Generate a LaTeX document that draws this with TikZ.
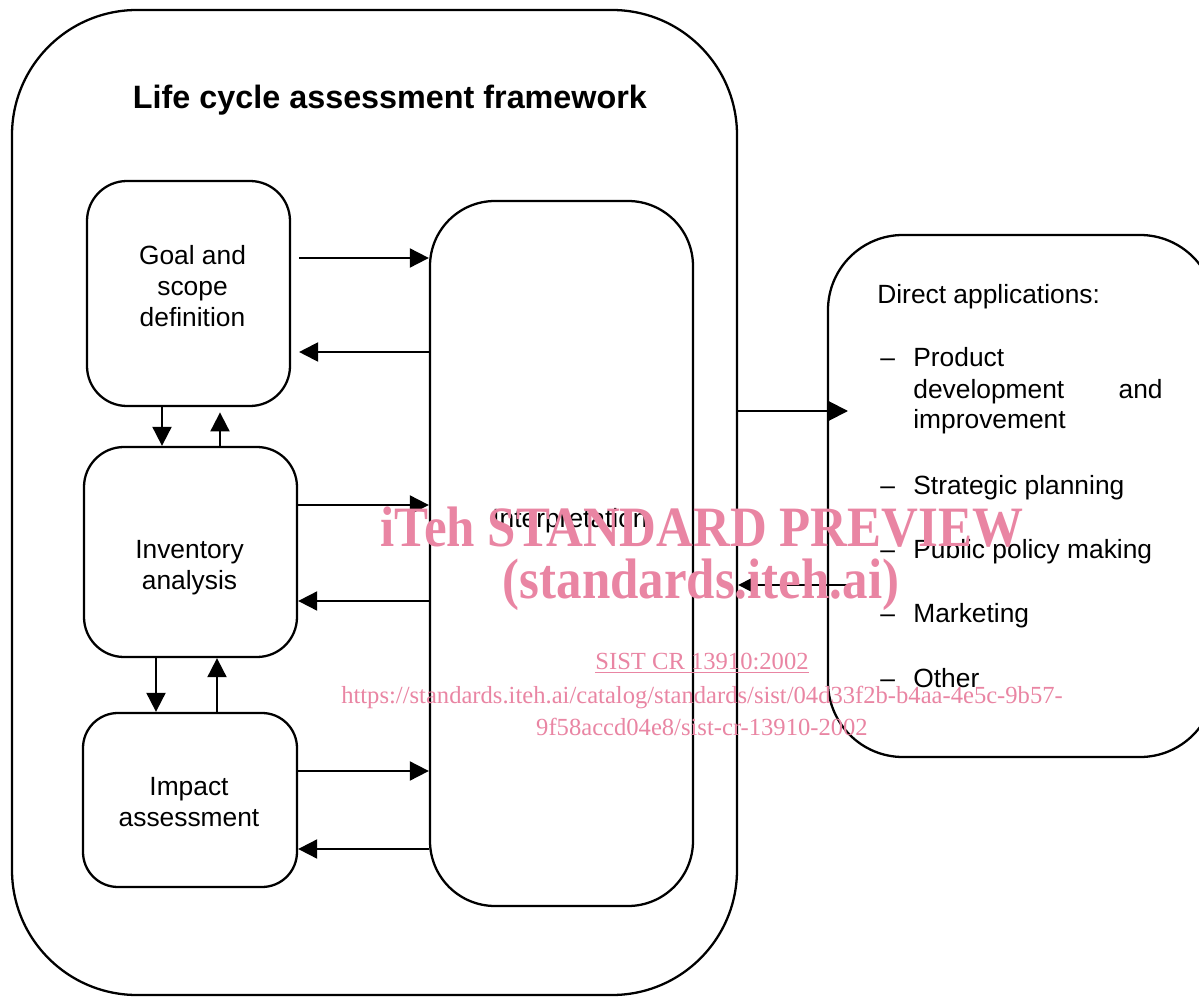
\documentclass[tikz,border=0pt]{standalone}
\usepackage{fontspec}
\setmainfont{Liberation Sans}
\newfontfamily\wmfont{Liberation Serif}
\usetikzlibrary{arrows.meta,positioning,calc}
\definecolor{wmpink}{RGB}{233,133,163}

\begin{document}
\begin{tikzpicture}[
    frame/.style={draw, line width=1.3pt, rounded corners=2.5cm},
    stage/.style={draw, line width=1.3pt, rounded corners=0.8cm},
    stagetext/.style={align=center, font=\fontsize{15}{17.6}\selectfont},
    arrow/.style={-{Triangle[length=0.38cm, width=0.38cm]}, line width=1.1pt},
    item/.style={anchor=base west, inner sep=0pt, font=\fontsize{15}{18}\selectfont},
    wm/.style={text=wmpink, align=center, inner sep=0pt}
]
\useasboundingbox (0,0) rectangle (23.98,19.96);

% framework
\node[frame, minimum width=14.5cm, minimum height=19.7cm] (lca) at (7.49,9.91) {};
\node[font=\fontsize{18.4}{22}\selectfont\bfseries] (title) at (7.8,17.96) {Life cycle assessment framework};

\node[stage, minimum width=4.06cm, minimum height=4.5cm] (goal) at (3.77,14.09) {};
\node[stagetext] (goaltxt) at (3.85,14.23) {Goal and\\scope\\definition};
\node[stage, minimum width=4.26cm, minimum height=4.2cm] (inv) at (3.81,8.92) {};
\node[stagetext] (invtxt) at (3.79,8.6) {Inventory\\analysis};
\node[stage, minimum width=4.28cm, minimum height=3.48cm, rounded corners=0.7cm] (impact) at (3.8,3.96) {};
\node[stagetext] (impacttxt) at (3.78,3.92) {Impact\\assessment};

\node[stage, minimum width=5.26cm, minimum height=14.1cm, rounded corners=1.3cm] (interp) at (11.23,8.89) {};
\node[stagetext] (interptxt) at (11.4,9.54) {Interpretation};

% phases <-> interpretation
\draw[arrow, shorten <=4.5pt] (goal.east |- 0,14.8) -- (interp.west |- 0,14.8);
\draw[arrow, shorten >=4.5pt] (interp.west |- 0,12.92) -- (goal.east |- 0,12.92);
\draw[arrow] (inv.east |- 0,9.86) -- (interp.west |- 0,9.86);
\draw[arrow] (interp.west |- 0,7.94) -- (inv.east |- 0,7.94);
\draw[arrow] (impact.east |- 0,4.54) -- (interp.west |- 0,4.54);
\draw[arrow] (interp.west |- 0,2.98) -- (impact.east |- 0,2.98);

% between phases
\draw[arrow] (goal.south -| 3.24,0) -- (inv.north -| 3.24,0);
\draw[arrow, shorten >=3pt] (inv.north -| 4.4,0) -- (goal.south -| 4.4,0);
\draw[arrow] (inv.south -| 3.12,0) -- (impact.north -| 3.12,0);
\draw[arrow] (impact.north -| 4.34,0) -- (inv.south -| 4.34,0);

% direct applications
\node[frame, minimum width=7.74cm, minimum height=10.44cm, rounded corners=1.5cm] (direct) at (20.43,10.04) {};
\node[item] (apphead) at (17.54,13.88) {Direct applications:};
\node[item] (d1) at (17.6,12.62) {\textendash};
\node[item] (a1) at (18.26,12.62) {Product};
\node[item] (a1b) at (18.26,11.98) {development};
\node[item, anchor=base east] (a1c) at (23.26,11.98) {and};
\node[item] (a1d) at (18.26,11.38) {improvement};
\node[item] (d2) at (17.6,10.08) {\textendash};
\node[item] (a2) at (18.26,10.08) {Strategic planning};
\node[item] (d3) at (17.6,8.8) {\textendash};
\node[item] (a3) at (18.26,8.8) {Public policy making};
\node[item] (d4) at (17.6,7.52) {\textendash};
\node[item] (a4) at (18.26,7.52) {Marketing};
\node[item] (d5) at (17.6,6.22) {\textendash};
\node[item] (a5) at (18.26,6.22) {Other};

\coordinate (appout) at (16.96,11.74);
\coordinate (appback) at (16.98,8.26);
\draw[arrow] (lca.east |- appout) -- (appout);
\draw[arrow] (appback) -- (lca.east |- appback);

% watermark
\node[wm, font=\wmfont\bfseries\fontsize{29}{34}\selectfont] (wm1) at (14.04,9.42) {\scalebox{1}[1.12]{iTeh STANDARD PREVIEW}};
\node[wm, font=\wmfont\bfseries\fontsize{29}{34}\selectfont] (wm2) at (14.02,8.26) {\scalebox{1}[1.12]{(standards.iteh.ai)}};
\node[wm, font=\wmfont\fontsize{14}{16}\selectfont] (wm3) at (14.04,6.7) {\underline{SIST CR 13910:2002}};
\node[wm, font=\wmfont\fontsize{14}{16}\selectfont] (wm4) at (14.04,6.02) {https://standards.iteh.ai/catalog/standards/sist/04d33f2b-b4aa-4e5c-9b57-};
\node[wm, font=\wmfont\fontsize{14}{16}\selectfont] (wm5) at (14.04,5.42) {9f58accd04e8/sist-cr-13910-2002};

\end{tikzpicture}
\end{document}
